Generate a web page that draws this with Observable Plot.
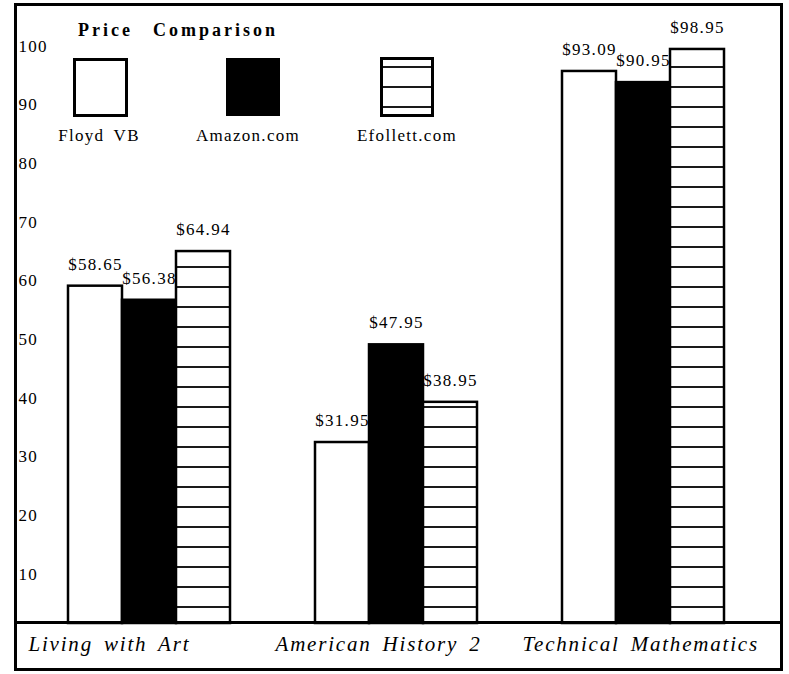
<!DOCTYPE html>
<html><head><meta charset="utf-8">
<script src="https://cdn.jsdelivr.net/npm/d3@7"></script>
<script src="https://cdn.jsdelivr.net/npm/@observablehq/plot@0.6"></script>
<style>
html,body{margin:0;padding:0;background:#fff;}
#wrap{position:relative;width:789px;height:674px;overflow:hidden;font-family:"Liberation Serif","Times New Roman",serif;}
#chart{position:absolute;left:0;top:0;}
#legend{position:absolute;left:0;top:0;pointer-events:none;}
.frame{position:absolute;left:14px;top:3px;width:769px;height:668px;border:3px solid #000;box-sizing:border-box;pointer-events:none;}
.sep{position:absolute;left:14px;top:621px;width:769px;height:3px;background:#000;}
#chart svg text{letter-spacing:1.3px;}
#chart g[aria-label="fx-axis tick label"] text{letter-spacing:1.8px;word-spacing:4px;font-style:italic;}
#legend text{font-family:"Liberation Serif","Times New Roman",serif;fill:#000;}
</style></head>
<body>
<div id="wrap">
<svg width="0" height="0" style="position:absolute">
<defs><pattern id="hatch" patternUnits="userSpaceOnUse" width="10" height="20"><rect width="10" height="20" fill="#fff"/><line x1="0" x2="10" y1="7" y2="7" stroke="#000" stroke-width="1.8"/></pattern></defs>
</svg>
<div id="chart"></div>
<svg id="legend" width="789" height="160">
  <text x="78" y="36" font-size="18" font-weight="bold" style="letter-spacing:3px">Price</text>
  <text x="153" y="36" font-size="18" font-weight="bold" style="letter-spacing:3px">Comparison</text>
  <rect x="74.5" y="59.5" width="52" height="56" fill="#fff" stroke="#000" stroke-width="3"/>
  <rect x="226" y="58" width="54" height="58" fill="#000"/>
  <rect x="381.5" y="58.5" width="51" height="57" fill="url(#hatch)" stroke="#000" stroke-width="3"/>
  <text x="99" y="141" font-size="17" text-anchor="middle" style="letter-spacing:1.3px;word-spacing:4px">Floyd VB</text>
  <text x="248" y="141" font-size="17" text-anchor="middle" style="letter-spacing:1.3px">Amazon.com</text>
  <text x="407" y="141" font-size="17" text-anchor="middle" style="letter-spacing:1.3px">Efollett.com</text>
</svg>
<div class="frame"></div><div class="sep"></div>
</div>
<script>
// Categories and series
const groups = ["Living with Art", "American History 2", "Technical Mathematics"];
const series = ["Floyd VB", "Amazon.com", "Efollett.com"];
// Bar heights as drawn in the picture
const floydBars = [58.6, 31.95, 95.2];
const amazonBars = [56.2, 48.6, 93.3];
const efollettBars = [64.5, 38.8, 98.95];
// Printed price labels
const floydLabels = ["$58.65", "$31.95", "$93.09"];
const amazonLabels = ["$56.38", "$47.95", "$90.95"];
const efollettLabels = ["$64.94", "$38.95", "$98.95"];
// Y tick labels
const yTicks = [10, 20, 30, 40, 50, 60, 70, 80, 90, 100];

const bars = [floydBars, amazonBars, efollettBars];
const labels = [floydLabels, amazonLabels, efollettLabels];
const rows = [];
groups.forEach((g, i) => series.forEach((s, j) => rows.push({group: g, series: s, height: bars[j][i], label: labels[j][i]})));

const fills = {"Floyd VB": "#fff", "Amazon.com": "#000", "Efollett.com": "url(#hatch)"};

const plot = Plot.plot({
  width: 789, height: 674,
  marginLeft: 67, marginRight: 65, marginTop: 42.8, marginBottom: 51,
  fx: {domain: groups, paddingInner: 0.3455, paddingOuter: 0, label: null},
  x: {domain: series, padding: 0, axis: null},
  y: {domain: [1.1, 100], clamp: true, axis: null},
  style: {fontFamily: "'Liberation Serif', 'Times New Roman', serif", fontSize: "17px", background: "transparent", color: "#000", overflow: "visible"},
  marks: [
    ...series.map(s => Plot.barY(rows.filter(d => d.series === s), {
      fx: "group", x: "series", y: "height", fill: fills[s], stroke: "#000", strokeWidth: 2.5
    })),
    Plot.text(rows, {fx: "group", x: "series", y: "height", text: "label", dy: -22, fontSize: 17, fill: "#000"}),
    Plot.axisY(yTicks, {anchor: "left", tickSize: 0, tickPadding: 0, textAnchor: "start", dx: -50, dy: 3, fontSize: 17, label: null}),
    Plot.axisFx({anchor: "bottom", tickSize: 0, tickPadding: 13, textAnchor: "start", dx: -121, fontSize: 21, fontStyle: "italic", label: null})
  ]
});
document.getElementById("chart").appendChild(plot);
</script>
</body></html>
